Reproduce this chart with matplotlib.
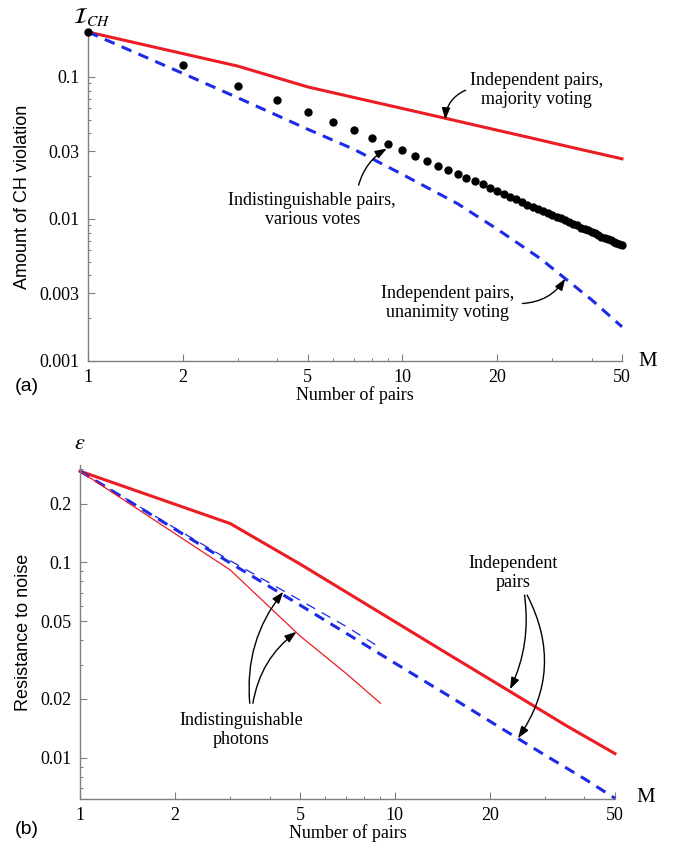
import matplotlib.pyplot as plt
from matplotlib.ticker import FixedLocator, FixedFormatter, NullFormatter

plt.rcParams['mathtext.fontset'] = 'stix'
SERIF = 'Liberation Serif'
SANS = 'Liberation Sans'

# ---- panel (a): amount of CH violation ----
maj_M = [1, 3, 5, 7, 9, 13, 19, 25, 35, 50]
maj_val = [0.207, 0.119, 0.085, 0.0717, 0.0632, 0.0525, 0.0433, 0.0377, 0.0317, 0.0265]

una_M = [1, 2, 3, 4, 5, 7, 10, 15, 20, 27.5, 33, 40, 50]
una_val = [0.207, 0.106, 0.0712, 0.0535, 0.0428, 0.031, 0.0206, 0.0128, 0.0085,
           0.00526, 0.0038, 0.0027, 0.00174]

ind_M = list(range(1, 51))
ind_val = [0.207, 0.121, 0.0864, 0.0682, 0.0564, 0.048, 0.042, 0.037, 0.0336, 0.0305,
           0.0277, 0.0257, 0.0235, 0.0221, 0.0206, 0.0195, 0.0184, 0.0175, 0.0165, 0.0157,
           0.0150, 0.0143, 0.0138, 0.0131, 0.0126, 0.0122, 0.0118, 0.0114, 0.0110, 0.0107,
           0.0104, 0.0101, 0.0098, 0.0095, 0.0092, 0.0090, 0.0087, 0.0085, 0.0083, 0.0081,
           0.0079, 0.0077, 0.0075, 0.0074, 0.0072, 0.0071, 0.0069, 0.0068, 0.0067, 0.0066]

# ---- panel (b): resistance to noise ----
indep_red_M = [1, 3, 5, 7, 9, 15, 25, 35, 50]
indep_red_val = [0.293, 0.158, 0.098, 0.0705, 0.0551, 0.0334, 0.0203, 0.0146, 0.0105]

indep_blue_M = [1, 2, 3, 4, 5, 7, 10, 15, 20, 30, 40, 50]
indep_blue_val = [0.293, 0.148, 0.0993, 0.0751, 0.0604, 0.0434, 0.0305, 0.0205, 0.0154,
                  0.0103, 0.0078, 0.0062]

phot_blue_M = [1, 2, 3, 5, 7, 9]
phot_blue_val = [0.293, 0.150, 0.102, 0.064, 0.047, 0.0365]

phot_red_M = [1, 3, 5, 7, 9]
phot_red_val = [0.293, 0.0914, 0.042, 0.027, 0.019]

x_ticks = [1, 2, 5, 10, 20, 50]
x_minor = [3, 4, 6, 7, 8, 9, 30, 40]

RED = '#ec1c24'
BLUE = '#1c2be6'
GREY = '#7f7f7f'

W, H = 679, 848
fig = plt.figure(figsize=(W / 100, H / 100), dpi=100)


def frac(x0, y_top, x1, y_bot):
    return [x0 / W, 1 - y_bot / H, (x1 - x0) / W, (y_bot - y_top) / H]


def style_axes(ax, ylim, yticks, ylabels, yminor):
    ax.set_xscale('log')
    ax.set_yscale('log')
    ax.set_xlim(1, 50)
    ax.set_ylim(*ylim)
    for s in ['top', 'right']:
        ax.spines[s].set_visible(False)
    for s in ['left', 'bottom']:
        ax.spines[s].set_color(GREY)
        ax.spines[s].set_linewidth(1.0)
    ax.xaxis.set_major_locator(FixedLocator(x_ticks))
    ax.xaxis.set_major_formatter(FixedFormatter([str(t) for t in x_ticks]))
    ax.xaxis.set_minor_locator(FixedLocator(x_minor))
    ax.xaxis.set_minor_formatter(NullFormatter())
    ax.yaxis.set_major_locator(FixedLocator(yticks))
    ax.yaxis.set_major_formatter(FixedFormatter(ylabels))
    ax.yaxis.set_minor_locator(FixedLocator(yminor))
    ax.yaxis.set_minor_formatter(NullFormatter())
    ax.tick_params(which='major', direction='in', length=5, width=0.8, color=GREY,
                   labelsize=13, pad=6)
    ax.tick_params(which='minor', direction='in', length=2.5, width=0.7, color=GREY)
    for lab in ax.get_xticklabels() + ax.get_yticklabels():
        lab.set_fontfamily(SERIF)
    ax.set_xlabel('Number of pairs', fontsize=13, family=SERIF, labelpad=0)


def minor_list(lo, hi, skip):
    out = []
    for dec in [0.0001, 0.001, 0.01, 0.1]:
        for k in range(1, 10):
            v = round(k * dec, 6)
            if lo <= v <= hi and v not in skip:
                out.append(v)
    return out


arrow = dict(arrowstyle='-|>,head_length=0.7,head_width=0.25', color='black', lw=1.0,
             shrinkA=0, shrinkB=0)

# ---------------- (a) ----------------
ax1 = fig.add_axes(frac(88, 32, 622, 361))
a_ticks = [0.001, 0.003, 0.01, 0.03, 0.1]
style_axes(ax1, (0.001, 0.207), a_ticks, ['0.001', '0.003', '0.01', '0.03', '0.1'],
           minor_list(0.001, 0.207, a_ticks))
ax1.plot(maj_M, maj_val, color=RED, lw=2.2, solid_joinstyle='round', clip_on=False)
ax1.plot(una_M, una_val, color=BLUE, lw=2.2, ls=(0, (3.5, 2.5)), clip_on=False)
ax1.plot(ind_M, ind_val, 'o', color='black', ms=5, clip_on=False, zorder=5)
ax1.set_ylabel('Amount of CH violation', fontsize=13, family=SANS, labelpad=6)

ax1.text(26.7, 0.0806, 'Independent pairs,\nmajority voting', ha='center', va='center',
         fontsize=13, family=SERIF, linespacing=1.15)
ax1.annotate('', xy=(13.7, 0.050), xytext=(15.9, 0.0806), arrowprops=dict(
    arrow, connectionstyle='arc3,rad=0.3'))

ax1.text(5.17, 0.0115, 'Indistinguishable pairs,\nvarious votes', ha='center', va='center',
         fontsize=13, family=SERIF, linespacing=1.15)
ax1.annotate('', xy=(8.93, 0.0313), xytext=(7.26, 0.0173), arrowprops=dict(
    arrow, connectionstyle='arc3,rad=-0.2'))

ax1.text(13.9, 0.00255, 'Independent pairs,\nunanimity voting', ha='center', va='center',
         fontsize=13, family=SERIF, linespacing=1.15)
ax1.annotate('', xy=(33.0, 0.0038), xytext=(24.1, 0.00254), arrowprops=dict(
    arrow, connectionstyle='arc3,rad=0.25'))

fig.text(92 / W, 1 - 17 / H, r'$\mathcal{I}_{CH}$', fontsize=16, ha='center', va='center')
fig.text(648 / W, 1 - 362 / H, 'M', fontsize=15, family=SERIF, ha='center', va='center')
fig.text(27 / W, 1 - 386 / H, '(a)', fontsize=14, family=SANS, ha='center', va='center')

# ---------------- (b) ----------------
ax2 = fig.add_axes(frac(80, 465, 615, 799))
b_ticks = [0.01, 0.02, 0.05, 0.1, 0.2]
style_axes(ax2, (0.00615, 0.315), b_ticks, ['0.01', '0.02', '0.05', '0.1', '0.2'],
           minor_list(0.00615, 0.315, b_ticks))
ax2.plot(indep_red_M, indep_red_val, color=RED, lw=2.2, clip_on=False)
ax2.plot(indep_blue_M, indep_blue_val, color=BLUE, lw=2.2, ls=(0, (3.5, 2.5)), clip_on=False)
ax2.plot(phot_blue_M, phot_blue_val, color=BLUE, lw=0.9, ls=(0, (8, 6)))
ax2.plot(phot_red_M, phot_red_val, color=RED, lw=0.9)
ax2.set_ylabel('Resistance to noise', fontsize=13, family=SANS, labelpad=6)

ax2.text(23.7, 0.0881, 'Independent\npairs', ha='center', va='center',
         fontsize=13, family=SERIF, linespacing=1.15)
ax2.annotate('', xy=(23.2, 0.0224), xytext=(25.8, 0.068), arrowprops=dict(
    arrow, connectionstyle='arc3,rad=-0.15'))
ax2.annotate('', xy=(24.6, 0.0126), xytext=(26.3, 0.068), arrowprops=dict(
    arrow, connectionstyle='arc3,rad=-0.3'))

ax2.text(3.24, 0.01387, 'Indistinguishable\nphotons', ha='center', va='center',
         fontsize=13, family=SERIF, linespacing=1.15)
ax2.annotate('', xy=(4.42, 0.0707), xytext=(3.46, 0.019), arrowprops=dict(
    arrow, connectionstyle='arc3,rad=-0.2'))
ax2.annotate('', xy=(4.87, 0.0441), xytext=(3.54, 0.019), arrowprops=dict(
    arrow, connectionstyle='arc3,rad=-0.2'))

fig.text(80 / W, 1 - 443 / H, r'$\epsilon$', fontsize=16, ha='center', va='center')
fig.text(646 / W, 1 - 798 / H, 'M', fontsize=15, family=SERIF, ha='center', va='center')
fig.text(27 / W, 1 - 830 / H, '(b)', fontsize=14, family=SANS, ha='center', va='center')

fig.savefig('out.png', dpi=100)
